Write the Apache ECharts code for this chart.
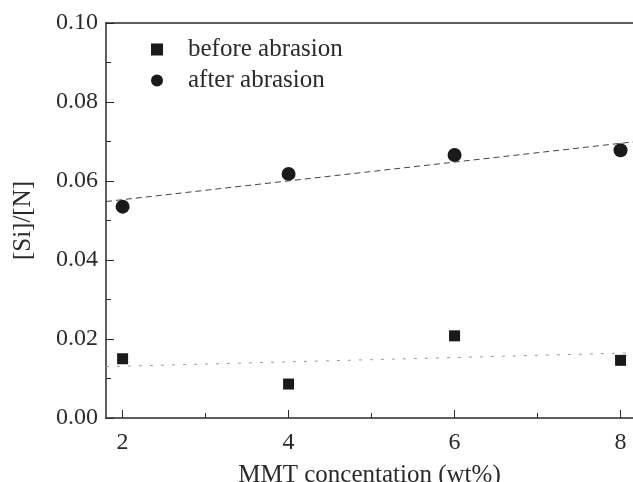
<!DOCTYPE html>
<html>
<head>
<meta charset="utf-8">
<script src="https://cdn.jsdelivr.net/npm/echarts@6/dist/echarts.min.js"></script>
<style>
  html, body { margin: 0; padding: 0; background: #fff; }
  #chart { width: 633px; height: 482px; }
</style>
</head>
<body>
<div id="chart"></div>
<script>
// values
const mmt = [2, 4, 6, 8];
const beforeAbrasion = [0.0150, 0.0086, 0.0208, 0.0146];
const afterAbrasion = [0.0535, 0.0618, 0.0666, 0.0678];
// fitted lines, end points
const beforeFit = [[1.8, 0.0130], [8.15, 0.0165]];
const afterFit = [[1.8, 0.0548], [8.15, 0.0699]];
const xLabels = [2, 4, 6, 8];
const xMinor = [3, 5, 7];

const font = 'Liberation Serif';
const ink = '#2a2a2a';

const chart = echarts.init(document.getElementById('chart'));
chart.setOption({
  animation: false,
  grid: { left: 106, top: 23, right: 0, bottom: 64, outerBoundsMode: 'none' },
  legend: {
    orient: 'vertical',
    left: 146, top: 32,
    itemGap: 6,
    itemWidth: 12, itemHeight: 12,
    textStyle: { fontFamily: font, fontSize: 25, color: ink, padding: [0, 0, 0, 20] },
    data: [
      { name: 'before abrasion', icon: 'rect' },
      { name: 'after abrasion', icon: 'circle' }
    ]
  },
  xAxis: [{
    type: 'value', min: 1.8, max: 8.15, position: 'bottom',
    name: 'MMT concentation (wt%)', nameLocation: 'middle', nameGap: 45,
    nameTextStyle: { fontFamily: font, fontSize: 25, color: ink },
    axisLine: { lineStyle: { color: ink, width: 1.5 } },
    axisTick: { inside: true, length: 8, customValues: xLabels, lineStyle: { color: ink } },
    axisLabel: { customValues: xLabels, fontFamily: font, fontSize: 24, color: ink, margin: 13 },
    splitLine: { show: false }
  }, {
    type: 'value', min: 1.8, max: 8.15, position: 'bottom',
    axisLine: { show: false },
    axisTick: { inside: true, length: 5, customValues: xMinor, lineStyle: { color: ink } },
    axisLabel: { show: false },
    splitLine: { show: false }
  }, {
    type: 'value', min: 1.8, max: 8.15, position: 'top',
    axisLine: { lineStyle: { color: ink, width: 1.5 } },
    axisTick: { show: false },
    axisLabel: { show: false },
    splitLine: { show: false }
  }],
  yAxis: {
    type: 'value', min: 0, max: 0.1, interval: 0.02,
    name: '[Si]/[N]', nameLocation: 'middle', nameGap: 70,
    nameTextStyle: { fontFamily: font, fontSize: 25, color: ink },
    axisLine: { show: true, lineStyle: { color: ink, width: 1.5 } },
    axisTick: { inside: true, length: 8, lineStyle: { color: ink } },
    minorTick: { show: true, splitNumber: 2, length: 5, lineStyle: { color: ink } },
    axisLabel: {
      fontFamily: font, fontSize: 24, color: ink, margin: 8,
      formatter: v => v.toFixed(2)
    },
    splitLine: { show: false }
  },
  series: [{
    name: 'before abrasion', type: 'scatter', symbol: 'rect', symbolSize: 11,
    itemStyle: { color: '#1a1a1a', opacity: 1 },
    data: mmt.map((x, i) => [x, beforeAbrasion[i]])
  }, {
    name: 'after abrasion', type: 'scatter', symbol: 'circle', symbolSize: 14,
    itemStyle: { color: '#1a1a1a', opacity: 1 },
    data: mmt.map((x, i) => [x, afterAbrasion[i]])
  }, {
    name: 'before fit', type: 'line', showSymbol: false, symbol: 'none',
    lineStyle: { color: '#999', width: 1, type: [3, 8] },
    data: beforeFit
  }, {
    name: 'after fit', type: 'line', showSymbol: false, symbol: 'none',
    lineStyle: { color: '#444', width: 1, type: [6, 4] },
    data: afterFit
  }]
});
</script>
</body>
</html>
